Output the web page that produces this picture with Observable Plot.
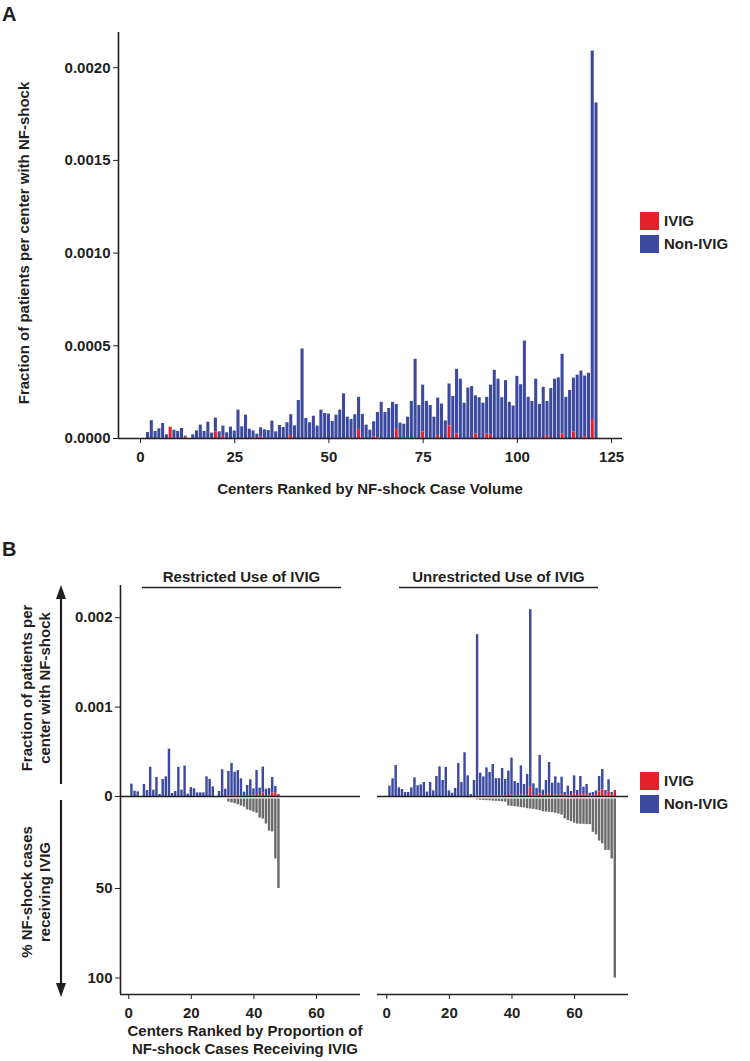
<!DOCTYPE html>
<html>
<head>
<meta charset="utf-8">
<script src="https://cdn.jsdelivr.net/npm/d3@7"></script>
<script src="https://cdn.jsdelivr.net/npm/@observablehq/plot@0.6"></script>
<style>
  body { margin: 0; background: #fff; }
  #fig { position: relative; width: 750px; height: 1061px; overflow: hidden; background: #fff; }
</style>
</head>
<body>
<div id="fig"></div>
<script>
// ---------------- DATA ----------------
// Panel A: fraction of patients per center with NF-shock, centers ranked 1..121 by case volume
const totalA = [
  0, 0.000032, 0.000096, 0.000038, 0.000052, 0.000081, 0.000020, 0.000061, 0.000045, 0.000038,
  0.000054, 0.000013, 0, 0.000020, 0.000041, 0.000072, 0.000038, 0.000088, 0.000029, 0.000110,
  0.000036, 0.000067, 0.000031, 0.000061, 0.000040, 0.000153, 0.000063, 0.000126, 0.000050, 0.000041,
  0.000023, 0.000058, 0.000047, 0.000043, 0.000094, 0.000036, 0.000070, 0.000059, 0.000085, 0.000128,
  0.000068, 0.000205, 0.000483, 0.000108, 0.000085, 0.000120, 0.000067, 0.000153, 0.000135, 0.000132,
  0.000092, 0.000126, 0.000153, 0.000241, 0.000115, 0.000103, 0.000128, 0.000222, 0.000130, 0.000072,
  0.000045, 0.000090, 0.000140, 0.000195, 0.000140, 0.000162, 0.000195, 0.000184, 0.000083, 0.000077,
  0.000115, 0.000200, 0.000427, 0.000178, 0.000288, 0.000200, 0.000178, 0.000115, 0.000218, 0.000186,
  0.000095, 0.000294, 0.000227, 0.000373, 0.000320, 0.000190, 0.000272, 0.000280, 0.000230, 0.000220,
  0.000191, 0.000222, 0.000288, 0.000368, 0.000320, 0.000220, 0.000312, 0.000195, 0.000175, 0.000335,
  0.000290, 0.000526, 0.000222, 0.000200, 0.000320, 0.000184, 0.000276, 0.000200, 0.000270, 0.000320,
  0.000327, 0.000454, 0.000222, 0.000259, 0.000326, 0.000342, 0.000364, 0.000337, 0.000352, 0.002090,
  0.001810
];
const ivigRanksA = [8, 12, 20, 22, 30, 32, 40, 56, 58, 59, 62, 63, 68, 70, 71, 73, 75, 79, 82, 84, 89, 92, 93, 99, 106, 108, 112, 115, 118, 120, 121];
const ivigValuesA = [0.000061, 0.000007, 0.000036, 0.000016, 0.000005, 0.000008, 0.000016, 0.000005, 0.000049, 0.000006,
  0.000008, 0.000004, 0.000049, 0.000005, 0.000005, 0.000005, 0.000036, 0.000016, 0.000068, 0.000025,
  0.000025, 0.000025, 0.000018, 0.000005, 0.000005, 0.000016, 0.000025, 0.000034, 0.000010, 0.000103, 0.000005];
const xTicksA = [0, 25, 50, 75, 100, 125];
const yTicksA = [0, 0.0005, 0.0010, 0.0015, 0.0020];

// Panel B: restricted use of IVIG (48 centers ranked by proportion receiving IVIG)
const totalR = [
  0.000138, 0.000060, 0.000052, 0, 0.000134, 0.000067, 0.000328, 0.000071, 0.000213, 0.000022,
  0.000190, 0.000220, 0.000530, 0.000034, 0.000056, 0.000325, 0.000071, 0.000340, 0.000026, 0.000100,
  0.000086, 0.000041, 0.000041, 0.000041, 0.000220, 0.000190, 0.000108, 0, 0.000056, 0.000300,
  0.000082, 0.000280, 0.000370, 0.000272, 0.000290, 0.000198, 0.000049, 0.000123, 0.000187, 0.000086,
  0.000290, 0.000093, 0.000330, 0.000082, 0.000090, 0.000213, 0.000112, 0.000022
];
const firstIvigR = 32;
const ivigR = [0.000005, 0.000008, 0.000007, 0.000009, 0.000008, 0.000002, 0.000007, 0.000012, 0.000006, 0.000023,
  0.000010, 0.000037, 0.000011, 0.000016, 0.000039, 0.000038, 0.000011];
const pctR = [1.7, 2.2, 2.6, 3.2, 3.9, 4.5, 6.1, 6.5, 7.3, 8.0, 10.6, 11.2, 14.0, 17.9, 18.4, 33.5, 50.0];

// Panel B: unrestricted use of IVIG (73 centers)
const totalU = [
  0.000116, 0.000198, 0.000347, 0.000097, 0.000078, 0.000045, 0.000045, 0.000097, 0.000209, 0.000120,
  0.000130, 0.000157, 0.000049, 0.000157, 0.000063, 0.000224, 0.000332, 0.000179, 0.000325, 0.000063,
  0.000037, 0.000090, 0.000370, 0.000157, 0.000489, 0.000231, 0.000022, 0.000179, 0.001810, 0.000261,
  0.000220, 0.000320, 0.000269, 0.000358, 0.000200, 0.000200, 0.000313, 0.000190, 0.000284, 0.000429,
  0.000168, 0.000149, 0.000343, 0.000134, 0.000246, 0.002090, 0.000142, 0.000090, 0.000459, 0.000071,
  0.000179, 0.000380, 0.000149, 0.000220, 0.000149, 0.000216, 0.000045, 0.000116, 0.000056, 0.000231,
  0.000067, 0.000224, 0.000104, 0.000134, 0.000037, 0.000045, 0.000063, 0.000224, 0.000302, 0.000067,
  0.000187, 0.000045, 0.000067
];
const firstIvigU = 29;
const ivigU = [0.000009, 0.000002, 0.000002, 0.000003, 0.000003, 0.000005, 0.000003, 0.000003, 0.000005, 0.000003,
  0.000011, 0.000018, 0.000007, 0.000007, 0.000016, 0.000007, 0.000013, 0.000104, 0.000008, 0.000006,
  0.000030, 0.000005, 0.000013, 0.000028, 0.000011, 0.000018, 0.000013, 0.000019, 0.000005, 0.000014,
  0.000007, 0.000031, 0.000009, 0.000032, 0.000015, 0.000019, 0.000005, 0.000008, 0.000013, 0.000053,
  0.000076, 0.000019, 0.000054, 0.000015, 0.000067];
const pctU = [0.5, 0.7, 0.8, 0.9, 1.0, 1.2, 1.3, 1.4, 1.6, 1.7,
  3.9, 4.1, 4.3, 4.5, 4.8, 5.0, 5.4, 5.6, 5.8, 6.1,
  6.5, 7.1, 7.3, 7.4, 7.6, 8.0, 8.4, 9.0, 11.0, 12.0,
  12.6, 13.5, 14.0, 14.1, 14.1, 14.3, 14.3, 18.6, 20.0, 23.5,
  25.0, 28.7, 28.7, 33.5, 100];
const xTicksB = [0, 20, 40, 60];
const yTicksBTop = [0, 0.001, 0.002];
const yTicksBBottom = [50, 100];
const legendLabels = ["IVIG", "Non-IVIG"];

// ---------------- TABLES ----------------
const ivigMapA = new Map(ivigRanksA.map((r, k) => [r, ivigValuesA[k]]));
const rowsA = totalA.map((t, k) => ({rank: k + 1, total: t, ivig: ivigMapA.get(k + 1) || 0}));
function facetRows(totals, first, ivig, pct) {
  return totals.map((t, k) => {
    const rank = k + 1, j = rank - first;
    const has = j >= 0 && j < pct.length;
    return {rank, total: t, ivig: has ? ivig[j] : 0, pct: has ? pct[j] : 0};
  });
}
const rowsR = facetRows(totalR, firstIvigR, ivigR, pctR);
const rowsU = facetRows(totalU, firstIvigU, ivigU, pctU);

// ---------------- STYLE ----------------
const BLUE = "#3b4a9f", RED = "#e6202a", GRAY = "#6b6b6b", INK = "#231f20";
const FONT = "'Liberation Sans', Arial, Helvetica, sans-serif";
const baseStyle = {fontFamily: FONT, fontSize: "15px", fontWeight: "bold", color: INK, background: "transparent", overflow: "visible"};
const fig = document.getElementById("fig");
function place(node, left, top) {
  node.style.position = "absolute";
  node.style.left = left + "px";
  node.style.top = top + "px";
  node.style.maxWidth = "none";
  fig.appendChild(node);
}
const x1f = d => d.rank - 0.5, x2f = d => d.rank + 0.5;
function stackedBars(rows) {
  return [
    Plot.rect(rows.filter(d => d.total > 0), {x1: x1f, x2: x2f, y1: "ivig", y2: "total", fill: BLUE, insetLeft: 0.35, insetRight: 0.35}),
    Plot.rect(rows.filter(d => d.ivig > 0), {x1: x1f, x2: x2f, y1: 0, y2: "ivig", fill: RED, insetLeft: 0.35, insetRight: 0.35})
  ];
}

// ---------------- PANEL A ----------------
const xA = [-5.84, 127.9];
const yA = [0, 0.00219];
place(Plot.plot({
  width: 630, height: 450, marginLeft: 118, marginRight: 8, marginTop: 12, marginBottom: 32,
  style: baseStyle,
  x: {domain: xA, ticks: xTicksA, tickSize: 5, tickPadding: 8, label: null},
  y: {domain: yA, ticks: yTicksA, tickFormat: d3.format(".4f"), tickSize: 5, tickPadding: 3, label: null},
  marks: [
    ...stackedBars(rowsA),
    Plot.ruleY([0], {stroke: INK, strokeWidth: 1.6}),
    Plot.ruleX([xA[0]], {stroke: INK, strokeWidth: 1.6})
  ]
}), 0, 20);

// ---------------- PANEL B ----------------
const xBL = [-2.65, 74.07];
const xBR = [-2.97, 77.22];
const yBTop = [0, 0.00236];
const yBBot = [-1.4, 109.2];
const topFmt = d => d === 0 ? "0" : d3.format(".3f")(d);

// top-left
place(Plot.plot({
  width: 370, height: 221, marginLeft: 120, marginRight: 10, marginTop: 10, marginBottom: 0,
  style: baseStyle,
  x: {domain: xBL, axis: null},
  y: {domain: yBTop, ticks: yTicksBTop, tickFormat: topFmt, tickSize: 5, tickPadding: 3, label: null},
  marks: [
    ...stackedBars(rowsR),
    Plot.ruleY([0], {stroke: INK, strokeWidth: 1.6}),
    Plot.ruleX([xBL[0]], {stroke: INK, strokeWidth: 1.6})
  ]
}), 0, 575);

// top-right
place(Plot.plot({
  width: 271, height: 221, marginLeft: 10, marginRight: 10, marginTop: 10, marginBottom: 0,
  style: baseStyle,
  x: {domain: xBR, axis: null},
  y: {domain: yBTop, axis: null},
  marks: [
    ...stackedBars(rowsU),
    Plot.ruleY([0], {stroke: INK, strokeWidth: 1.6})
  ]
}), 367, 575);

// bottom-left
place(Plot.plot({
  width: 370, height: 240, marginLeft: 120, marginRight: 10, marginTop: 0, marginBottom: 42,
  style: baseStyle,
  x: {domain: xBL, ticks: xTicksB, tickSize: 5, tickPadding: 8, label: null},
  y: {domain: yBBot, reverse: true, ticks: yTicksBBottom, tickSize: 5, tickPadding: 3, label: null},
  marks: [
    Plot.rect(rowsR.filter(d => d.pct > 0), {x1: x1f, x2: x2f, y1: 0, y2: "pct", fill: GRAY, insetLeft: 0.35, insetRight: 0.35}),
    Plot.ruleY([yBBot[1]], {stroke: INK, strokeWidth: 1.6}),
    Plot.ruleX([xBL[0]], {stroke: INK, strokeWidth: 1.6})
  ]
}), 0, 796);

// bottom-right
place(Plot.plot({
  width: 271, height: 240, marginLeft: 10, marginRight: 10, marginTop: 0, marginBottom: 42,
  style: baseStyle,
  x: {domain: xBR, ticks: xTicksB, tickSize: 5, tickPadding: 8, label: null},
  y: {domain: yBBot, reverse: true, axis: null},
  marks: [
    Plot.rect(rowsU.filter(d => d.pct > 0), {x1: x1f, x2: x2f, y1: 0, y2: "pct", fill: GRAY, insetLeft: 0.35, insetRight: 0.35}),
    Plot.ruleY([yBBot[1]], {stroke: INK, strokeWidth: 1.6})
  ]
}), 367, 796);

// ---------------- ANNOTATIONS ----------------
const svg = d3.create("svg")
  .attr("width", 750).attr("height", 1061)
  .style("position", "absolute").style("left", "0px").style("top", "0px")
  .style("pointer-events", "none")
  .attr("font-family", FONT).attr("font-weight", "bold").attr("fill", INK);

function text(x, y, s, size = 15, anchor = "start", rotate = false) {
  const t = svg.append("text").attr("font-size", size).attr("text-anchor", anchor).text(s);
  if (rotate) t.attr("transform", `translate(${x},${y}) rotate(-90)`).attr("dy", "0.35em");
  else t.attr("x", x).attr("y", y);
  return t;
}
// Panel letters
text(2, 21, "A", 20);
text(2, 556, "B", 20);
// Panel A titles
text(24, 243, "Fraction of patients per center with NF-shock", 15, "middle", true);
text(370, 494, "Centers Ranked by NF-shock Case Volume", 15, "middle");
// Legends
function legend(y) {
  svg.append("rect").attr("x", 640).attr("y", y).attr("width", 19).attr("height", 18).attr("fill", RED);
  svg.append("rect").attr("x", 640).attr("y", y + 23).attr("width", 19).attr("height", 18).attr("fill", BLUE);
  text(664, y + 14, legendLabels[0]);
  text(664, y + 37, legendLabels[1]);
}
legend(212);
legend(772);
// Facet titles
text(241.5, 582, "Restricted Use of IVIG", 15, "middle");
text(498.5, 582, "Unrestricted Use of IVIG", 15, "middle");
svg.append("line").attr("x1", 142).attr("x2", 341).attr("y1", 587.5).attr("y2", 587.5).attr("stroke", INK).attr("stroke-width", 1.6);
svg.append("line").attr("x1", 399).attr("x2", 598).attr("y1", 587.5).attr("y2", 587.5).attr("stroke", INK).attr("stroke-width", 1.6);
// Panel B y titles
text(27, 688, "Fraction of patients per", 15, "middle", true);
text(45, 688, "center with NF-shock", 15, "middle", true);
text(27, 892, "% NF-shock cases", 15, "middle", true);
text(45, 892, "receiving IVIG", 15, "middle", true);
// arrows
svg.append("line").attr("x1", 61).attr("x2", 61).attr("y1", 596).attr("y2", 784).attr("stroke", INK).attr("stroke-width", 2.2);
svg.append("path").attr("d", "M61,585 L66,599 L56,599 Z").attr("fill", INK);
svg.append("line").attr("x1", 61).attr("x2", 61).attr("y1", 800).attr("y2", 986).attr("stroke", INK).attr("stroke-width", 2.2);
svg.append("path").attr("d", "M61,997 L66,983 L56,983 Z").attr("fill", INK);
// Panel B x title
text(245, 1036, "Centers Ranked by Proportion of", 15, "middle");
text(245, 1054, "NF-shock Cases Receiving IVIG", 15, "middle");

fig.appendChild(svg.node());
</script>
</body>
</html>
